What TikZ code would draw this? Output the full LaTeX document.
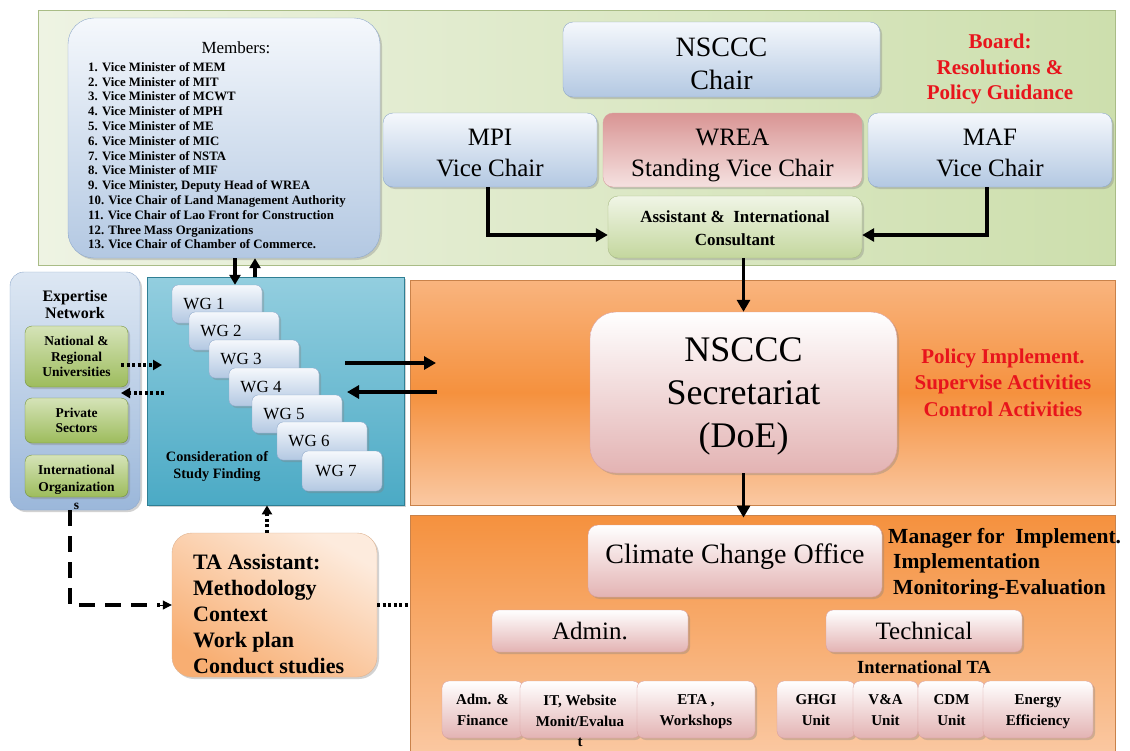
\documentclass[tikz,border=0pt]{standalone}
\usepackage{fontspec}
\setmainfont{Liberation Serif}
\usetikzlibrary{arrows.meta,shadows,calc}
\definecolor{gpL}{HTML}{EEF3E3}
\definecolor{gpR}{HTML}{CDDFAD}
\definecolor{gpD}{HTML}{A9BC86}
\definecolor{blueT}{HTML}{F5F8FC}
\definecolor{blueB}{HTML}{B3C8E2}
\definecolor{blueD}{HTML}{8FA9CB}
\definecolor{pinkT}{HTML}{D99594}
\definecolor{pinkB}{HTML}{F5E1E0}
\definecolor{grnT}{HTML}{F0F5E6}
\definecolor{grnB}{HTML}{C4D79E}
\definecolor{orT}{HTML}{F9B47E}
\definecolor{orM}{HTML}{F5913E}
\definecolor{orB}{HTML}{FAC8A2}
\definecolor{orD}{HTML}{C9824A}
\definecolor{secB}{HTML}{E3B3B3}
\definecolor{secD}{HTML}{D9A0A0}
\definecolor{tealT}{HTML}{93CEDF}
\definecolor{tealB}{HTML}{4BAAC5}
\definecolor{tealD}{HTML}{2F7F94}
\definecolor{expT}{HTML}{DDE7F3}
\definecolor{expB}{HTML}{9BB7DA}
\definecolor{sgT}{HTML}{D5E3B8}
\definecolor{sgB}{HTML}{9DBC5C}
\definecolor{sgD}{HTML}{76923C}
\definecolor{taT}{HTML}{FDEBDD}
\definecolor{taB}{HTML}{F8AE72}
\definecolor{redtxt}{HTML}{E8141C}
\newcommand\lowt[2]{\raisebox{-#1}[\height][\depth]{\begin{tabular}{@{}c@{}}#2\end{tabular}}}
\tikzset{
  shad/.style={drop shadow={shadow xshift=2pt,shadow yshift=-2pt,opacity=0.35}},
  panel/.style={draw=#1, line width=0.8pt, inner sep=0pt},
  rbox/.style={rounded corners=10pt, align=center, inner sep=0pt, shad},
  bluebox/.style={rbox, draw=blueD, top color=blueT, bottom color=blueB},
  pinkbox/.style={rbox, draw=secD, top color=white, bottom color=secB},
  smallbox/.style={rbox, rounded corners=7pt, draw=secD, top color=white, bottom color=secB,
     font=\fontsize{15}{21}\selectfont\bfseries, minimum height=57pt},
  greenbox/.style={rbox, rounded corners=7pt, draw=sgD, top color=sgT, bottom color=sgB,
     minimum width=103pt, font=\fontsize{13.5}{15.5}\selectfont\bfseries},
  wgbox/.style={rbox, rounded corners=6pt, draw=blueD, top color=blueT, bottom color=blueB,
     minimum width=90pt, minimum height=38pt},
  wgtxt/.style={font=\fontsize{17}{18}\selectfont, inner sep=0pt},
  redlbl/.style={align=center, text=redtxt, font=\fontsize{21}{25.5}\selectfont\bfseries},
  arr/.style={line width=3.8pt, -{Triangle[length=12pt,width=13pt]}},
  sarr/.style={line width=3.4pt, -{Triangle[length=10pt,width=11pt]}},
  dotarr/.style={line width=3.5pt, dash pattern=on 3pt off 2.5pt, -{Triangle[length=9pt,width=10pt]}},
  dashline/.style={line width=3.5pt, dash pattern=on 16pt off 10pt},
}
\begin{document}
\begin{tikzpicture}[x=1pt,y=-1pt]
\useasboundingbox (0,0) rectangle (1130,750);
\fill[white] (0,0) rectangle (1130,750);

% ---------- panels ----------
\node[panel=gpD, left color=gpL, right color=gpR, minimum width=1077pt, minimum height=255pt] (board) at (576.5,137.5) {};
\node[panel=orD, top color=orT, bottom color=orB, middle color=orM, minimum width=705pt, minimum height=225pt] (secpanel) at (762.5,392.5) {};
\node[panel=orD, top color=orM, bottom color=orB, minimum width=705pt, minimum height=240pt] (offpanel) at (762.5,635) {};
\node[panel=tealD, shad, top color=tealT, bottom color=tealB, minimum width=257pt, minimum height=228pt] (teal) at (275.5,391) {};
\node[rbox, rounded corners=14pt, draw=blueD, top color=expT, bottom color=expB, minimum width=130pt, minimum height=238pt] (exp) at (75,391) {};

% ---------- board ----------
\node[bluebox, rounded corners=26pt, minimum width=312pt, minimum height=240pt] (mem) at (224,138) {};
\node[font=\fontsize{17}{18}\selectfont, inner sep=0pt] (memtitle) at (236,48) {Members:};
\node[anchor=north west, align=left, inner sep=0pt, font=\fontsize{12.8}{14.8}\selectfont\bfseries] (memlist) at (88,62) {%
1. Vice Minister of MEM\\
2. Vice Minister of MIT\\
3. Vice Minister of MCWT\\
4. Vice Minister of MPH\\
5. Vice Minister of ME\\
6. Vice Minister of MIC\\
7. Vice Minister of NSTA\\
8. Vice Minister of MIF\\
9. Vice Minister, Deputy Head of WREA\\
10. Vice Chair of Land Management Authority\\
11. Vice Chair of Lao Front for Construction\\
12. Three Mass Organizations\\
13. Vice Chair of Chamber of Commerce.};

\node[bluebox, minimum width=317pt, minimum height=75pt, font=\fontsize{28}{33}\selectfont] (chair) at (721.5,59.5) {\lowt{7pt}{NSCCC\\Chair}};
\node[bluebox, minimum width=214pt, minimum height=74pt, font=\fontsize{25}{31}\selectfont] (mpi) at (490,150) {\lowt{5pt}{MPI\\Vice Chair}};
\node[rbox, draw=secD, top color=pinkT, bottom color=pinkB, minimum width=259pt, minimum height=74pt, font=\fontsize{25}{31}\selectfont] (wrea) at (732.5,150) {\lowt{5pt}{WREA\\Standing Vice Chair}};
\node[bluebox, minimum width=244pt, minimum height=74pt, font=\fontsize{25}{31}\selectfont] (maf) at (990,150) {\lowt{5pt}{MAF\\Vice Chair}};
\node[rbox, draw=gpD, top color=grnT, bottom color=grnB, minimum width=254pt, minimum height=62pt, font=\fontsize{17}{23}\selectfont\bfseries] (asst) at (735,227) {\lowt{2.5pt}{Assistant \&\ \ International\\Consultant}};
\node[redlbl] (boardtxt) at (1000,69) {Board:\\Resolutions \&\\Policy Guidance};

% ---------- secretariat ----------
\node[pinkbox, rounded corners=26pt, minimum width=307pt, minimum height=161pt, font=\fontsize{36}{43}\selectfont] (sec) at (743.5,392.5) {\lowt{3pt}{NSCCC\\Secretariat\\(DoE)}};
\node[redlbl, font=\fontsize{21}{26.5}\selectfont\bfseries] (policytxt) at (1003,382.5) {Policy Implement.\\Supervise Activities\\Control Activities};

% ---------- climate change office ----------
\node[pinkbox, minimum width=294pt, minimum height=72pt, font=\fontsize{28}{30}\selectfont] (cco) at (735,561) {\raisebox{4pt}[\height][\depth]{Climate Change Office}};
\node[anchor=north west, align=left, inner sep=0pt, font=\fontsize{21.5}{25.5}\selectfont\bfseries] (mgrtxt) at (888,528) {Manager for\ \ Implement.\\\hspace*{5pt}Implementation\\\hspace*{5pt}Monitoring-Evaluation};
\node[pinkbox, rounded corners=7pt, minimum width=196pt, minimum height=42pt, font=\fontsize{25}{27}\selectfont] (admin) at (590,631) {Admin.};
\node[pinkbox, rounded corners=7pt, minimum width=196pt, minimum height=42pt, font=\fontsize{25}{27}\selectfont] (tech) at (924,631) {Technical};
\node[font=\fontsize{18.5}{20}\selectfont\bfseries, inner sep=0pt] (intta) at (924,667) {International TA};

\node[smallbox, minimum width=81pt] (admf) at (482.5,709.5) {\lowt{1.5pt}{Adm. \&\\Finance}};
\node[smallbox, minimum width=120pt] (itw) at (580,709.5) {};
\node[align=center, inner sep=0pt, font=\fontsize{15}{20.5}\selectfont\bfseries] (itwtxt) at (580,721) {IT, Website\\Monit/Evalua\\t};
\node[smallbox, minimum width=118pt] (eta) at (696,709.5) {\lowt{1.5pt}{ETA ,\\Workshops}};
\node[smallbox, minimum width=78pt] (ghgi) at (816,709.5) {\lowt{1.5pt}{GHGI\\Unit}};
\node[smallbox, minimum width=65pt] (va) at (885.5,709.5) {\lowt{1.5pt}{V\&A\\Unit}};
\node[smallbox, minimum width=67pt] (cdm) at (951.5,709.5) {\lowt{1.5pt}{CDM\\Unit}};
\node[smallbox, minimum width=110pt] (ee) at (1038,709.5) {\lowt{1.5pt}{Energy\\Efficiency}};

% ---------- expertise network ----------
\node[align=center, inner sep=0pt, font=\fontsize{16}{17}\selectfont\bfseries] (exptxt) at (75,305) {Expertise\\Network};
\node[greenbox, minimum height=61pt] (nat) at (76.5,356.5) {National \&\\Regional\\Universities};
\node[greenbox, minimum height=45pt] (priv) at (76.5,420.5) {Private\\Sectors};
\node[greenbox, minimum height=42pt] (intl) at (76.5,476) {};
\node[align=center, inner sep=0pt, font=\fontsize{13.5}{17.5}\selectfont\bfseries] (intltxt) at (76.5,487) {International\\Organization\\s};

% ---------- working groups ----------
\node[wgbox] (wg1) at (217,304) {};
\node[wgtxt] (wg1t) at (204,304) {WG 1};
\node[wgbox] (wg2) at (234,331) {};
\node[wgtxt] (wg2t) at (221,331) {WG 2};
\node[wgbox] (wg3) at (254,359) {};
\node[wgtxt] (wg3t) at (241,359) {WG 3};
\node[wgbox] (wg4) at (274,387) {};
\node[wgtxt] (wg4t) at (261,387) {WG 4};
\node[wgbox] (wg5) at (297,414) {};
\node[wgtxt] (wg5t) at (284,414) {WG 5};
\node[wgbox] (wg6) at (322,441) {};
\node[wgtxt] (wg6t) at (309,441) {WG 6};
\node[wgbox, minimum width=80pt, minimum height=40pt] (wg7) at (342,471) {};
\node[wgtxt] (wg7t) at (336,471) {WG 7};
\node[align=center, inner sep=0pt, font=\fontsize{14.3}{17}\selectfont\bfseries] (constxt) at (217,467) {Consideration of\\Study Finding};

% ---------- TA assistant ----------
\node[rbox, rounded corners=20pt, draw=orD!60, top color=taT, bottom color=taB, shading angle=-30, minimum width=205pt, minimum height=144pt] (ta) at (274.5,605) {};
\node[anchor=west, align=left, inner sep=0pt, font=\fontsize{22}{26}\selectfont\bfseries] (tatxt) at (193,614) {TA Assistant:\\Methodology\\Context\\Work plan\\Conduct studies};

% ---------- connectors ----------
\draw[arr] ([xshift=-2pt]mpi.south) |- ([yshift=-8pt]asst.west);
\draw[arr] ([xshift=-3pt]maf.south) |- ([yshift=-8pt]asst.east);
\draw[arr] (sec.north |- asst.south) -- (sec.north);
\draw[arr] (sec.south) -- ([yshift=-3pt]sec.south |- offpanel.north);

\draw[sarr] ([xshift=11pt]mem.south) -- ([xshift=11pt]mem.south |- wg1.north);
\draw[sarr] ([xshift=31pt]mem.south |- teal.north) -- ([xshift=31pt]mem.south);

\coordinate (r1a) at (345,363);
\coordinate (r1b) at (436,363);
\coordinate (r2a) at (437,392);
\coordinate (r2b) at (347,392);
\draw[arr] (r1a) -- (r1b);
\draw[arr] (r2a) -- (r2b);

\coordinate (d1a) at (121,365);
\coordinate (d1b) at (162,365);
\coordinate (d2a) at (164,393);
\coordinate (d2b) at (121,393);
\draw[dotarr] (d1a) -- (d1b);
\draw[dotarr] (d2a) -- (d2b);

\draw[dashline] ([xshift=-5pt]exp.south) -- ([xshift=-5pt]exp.south |- ta.west) -- ([xshift=-12pt]ta.west);
\draw[line width=1pt, -{Triangle[length=9pt,width=9pt]}] ([xshift=-12pt]ta.west) -- (ta.west);
\draw[dotarr] ([xshift=-7.5pt]ta.north) -- ([xshift=-7.5pt]ta.north |- teal.south);
\draw[line width=3.5pt, dash pattern=on 3pt off 2.5pt] (ta.east) -- (ta.east -| offpanel.west);
\end{tikzpicture}
\end{document}
